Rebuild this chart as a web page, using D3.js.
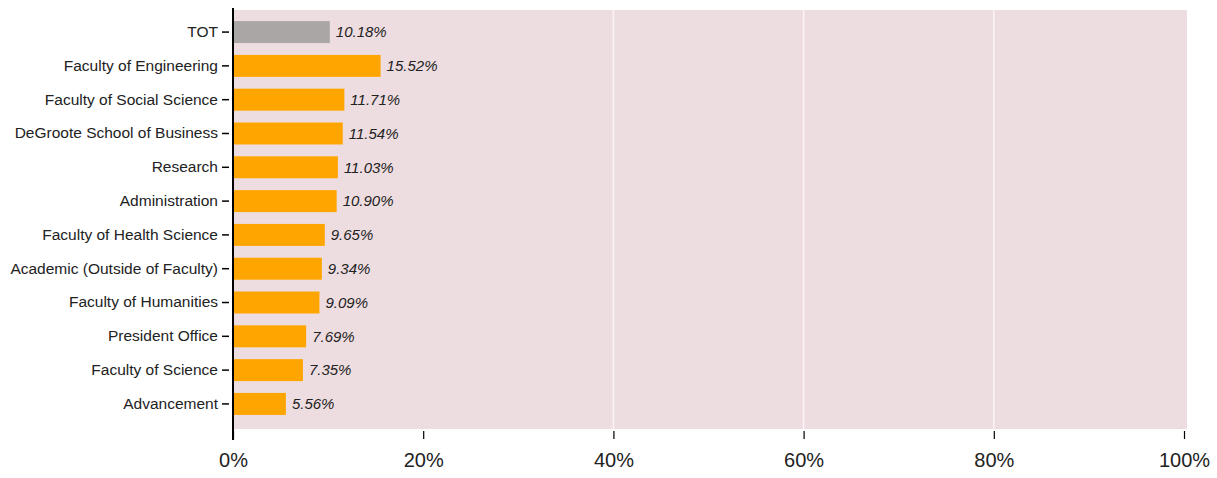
<!DOCTYPE html>
<html>
<head>
<meta charset="utf-8">
<script src="https://cdn.jsdelivr.net/npm/d3@7"></script>
<style>
  html, body { margin: 0; padding: 0; background: #ffffff; }
  svg { display: block; font-family: "Liberation Sans", Arial, sans-serif; }
</style>
</head>
<body>
<svg id="chart" width="1217" height="478"></svg>
<script>
// Share of staff per unit (percent)
const categories = [
  "TOT",
  "Faculty of Engineering",
  "Faculty of Social Science",
  "DeGroote School of Business",
  "Research",
  "Administration",
  "Faculty of Health Science",
  "Academic (Outside of Faculty)",
  "Faculty of Humanities",
  "President Office",
  "Faculty of Science",
  "Advancement"
];
const values = [10.18, 15.52, 11.71, 11.54, 11.03, 10.90, 9.65, 9.34, 9.09, 7.69, 7.35, 5.56];
const xTicks = [0, 20, 40, 60, 80, 100];
const gridTicks = [40, 60, 80];

const svg = d3.select("#chart");
const plot = { left: 233, right: 1187, top: 10, bottom: 429 };

const x = d3.scaleLinear().domain([0, 100]).range([233, 1184]);
const y = d3.scaleBand().domain(categories).range([15, 421]).paddingInner(0.35).paddingOuter(0.18);

// panel background
svg.append("rect")
  .attr("x", plot.left).attr("y", plot.top)
  .attr("width", plot.right - plot.left).attr("height", plot.bottom - plot.top)
  .attr("fill", "#eedde0");

// vertical grid lines
svg.append("g")
  .selectAll("line")
  .data(gridTicks)
  .join("line")
  .attr("x1", d => x(d)).attr("x2", d => x(d))
  .attr("y1", plot.top).attr("y2", plot.bottom)
  .attr("stroke", "#fbf3f5").attr("stroke-width", 1.5);

// bars
svg.append("g")
  .selectAll("rect")
  .data(categories)
  .join("rect")
  .attr("x", x(0))
  .attr("y", d => y(d))
  .attr("width", (d, i) => x(values[i]) - x(0))
  .attr("height", y.bandwidth())
  .attr("fill", d => d === "TOT" ? "#aaa6a6" : "#ffa500");

// value labels
svg.append("g")
  .selectAll("text")
  .data(categories)
  .join("text")
  .attr("x", (d, i) => x(values[i]) + 6)
  .attr("y", d => y(d) + y.bandwidth() / 2)
  .attr("dy", "0.35em")
  .attr("font-size", 15)
  .attr("font-style", "italic")
  .attr("fill", "#222")
  .text((d, i) => values[i].toFixed(2) + "%");

// left axis
const yAxis = svg.append("g")
  .attr("transform", `translate(${x(0)},0)`)
  .call(d3.axisLeft(y).tickSize(7).tickPadding(5));
yAxis.select(".domain").remove();
yAxis.selectAll(".tick line").attr("stroke", "#000").attr("stroke-width", 1.5).attr("x2", -11).attr("x1", -4);
yAxis.selectAll(".tick text").attr("font-size", 15.5).attr("fill", "#222").attr("x", -15)
  .attr("font-family", "'Liberation Sans', Arial, sans-serif");
svg.append("line")
  .attr("x1", x(0)).attr("x2", x(0))
  .attr("y1", 8).attr("y2", 440)
  .attr("stroke", "#000").attr("stroke-width", 2);

// bottom axis
const xAxis = svg.append("g")
  .attr("transform", `translate(0,${plot.bottom + 2})`)
  .call(d3.axisBottom(x).tickValues(xTicks).tickFormat(d => d + "%").tickSize(8).tickPadding(14));
xAxis.select(".domain").remove();
xAxis.selectAll(".tick line").attr("stroke", "#000").attr("stroke-width", 1.2);
xAxis.selectAll(".tick text").attr("font-size", 20).attr("fill", "#222")
  .attr("font-family", "'Liberation Sans', Arial, sans-serif");
</script>
</body>
</html>
